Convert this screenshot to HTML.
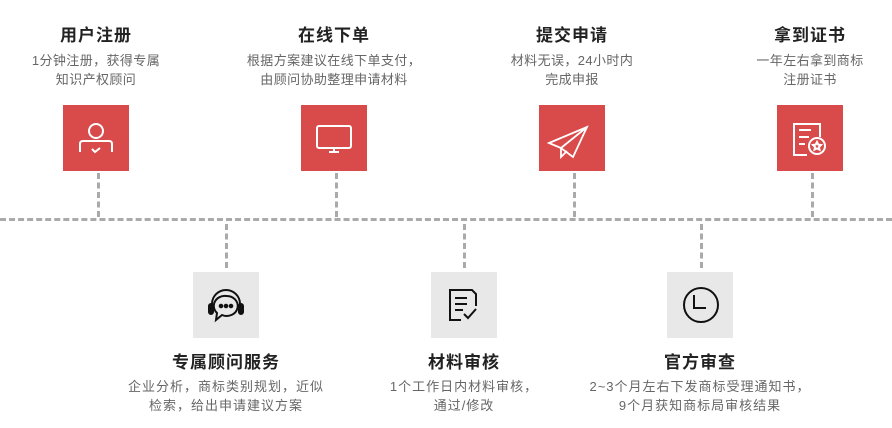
<!DOCTYPE html>
<html><head><meta charset="utf-8"><style>
body{margin:0;width:892px;height:428px;background:#fff;position:relative;overflow:hidden;font-family:"Liberation Sans","Noto Sans CJK SC",sans-serif;}
.t{position:absolute;width:240px;text-align:center;font-size:17px;font-weight:bold;color:#222;letter-spacing:1px;}
.d{position:absolute;width:240px;text-align:center;font-size:13px;color:#666;line-height:19px;letter-spacing:0.4px;}
.b .d,.d.b{letter-spacing:1px;}
.box{position:absolute;width:66px;height:66px;}
.r{background:#d94a4a;}
.g{background:#e8e8e8;}
.v{position:absolute;width:0;border-left:3px dashed #aaa;}
.h{position:absolute;left:0;top:218px;width:892px;height:0;border-top:3px dashed #aaa;}
svg{position:absolute;left:0;top:0}
</style></head><body>
<div class="h"></div>

<div class="t" style="left:-24px;top:21px">用户注册</div>
<div class="d" style="left:-24px;top:51px">1分钟注册，获得专属<br>知识产权顾问</div>
<div class="box r" style="left:63px;top:105px"><svg width="66" height="66" fill="none" stroke="#fff" stroke-width="2"><circle cx="33" cy="26" r="7"/><path d="M17 47v-8q0-3 3-3h26q3 0 3 3v8"/><path d="M29 44l3 3 5-4"/></svg></div>
<div class="v" style="left:97px;top:173px;height:44px"></div>

<div class="t" style="left:214px;top:21px">在线下单</div>
<div class="d" style="left:214px;top:51px">根据方案建议在线下单支付，<br>由顾问协助整理申请材料</div>
<div class="box r" style="left:301px;top:105px"><svg width="66" height="66" fill="none" stroke="#fff" stroke-width="2"><rect x="16" y="21" width="34" height="22" rx="2"/><path d="M28 47h10M33 43v4"/></svg></div>
<div class="v" style="left:335px;top:173px;height:44px"></div>

<div class="t" style="left:452px;top:21px">提交申请</div>
<div class="d" style="left:452px;top:51px">材料无误，24小时内<br>完成申报</div>
<div class="box r" style="left:539px;top:105px"><svg width="66" height="66" fill="none" stroke="#fff" stroke-width="1.8"><path d="M10 38L48 22 34 52 22 43z M22 43v9l6-6M22 43l26-21"/></svg></div>
<div class="v" style="left:573px;top:173px;height:44px"></div>

<div class="t" style="left:690px;top:21px">拿到证书</div>
<div class="d" style="left:690px;top:51px">一年左右拿到商标<br>注册证书</div>
<div class="box r" style="left:777px;top:105px"><svg width="66" height="66" fill="none" stroke="#fff" stroke-width="2"><path d="M30 50h-13V19h26v13"/><path d="M22 25h12M22 32h10M22 39h6"/><circle cx="40" cy="41" r="8"/><path d="M40 37l1.3 2.6 2.7.4-2 2 .5 2.7-2.5-1.3-2.5 1.3.5-2.7-2-2 2.7-.4z"/></svg></div>
<div class="v" style="left:811px;top:173px;height:44px"></div>

<div class="v" style="left:225px;top:224px;height:44px"></div>
<div class="box g" style="left:193px;top:272px"><svg width="66" height="66" fill="none" stroke="#111" stroke-width="2"><path d="M19 37v-5a14 14 0 0 1 28 0v5"/><rect x="16" y="32" width="4" height="10" rx="2" fill="#111"/><rect x="46" y="32" width="4" height="10" rx="2" fill="#111"/><path d="M33 24a11 10 0 1 1-4 19l-6 5 1-7a11 10 0 0 1 9-17z"/><circle cx="28" cy="34" r="1.3" fill="#111"/><circle cx="33" cy="34" r="1.3" fill="#111"/><circle cx="38" cy="34" r="1.3" fill="#111"/></svg></div>
<div class="t" style="left:106px;top:348px">专属顾问服务</div>
<div class="d b" style="left:96px;width:260px;top:377px">企业分析，商标类别规划，近似<br>检索，给出申请建议方案</div>

<div class="v" style="left:463px;top:224px;height:44px"></div>
<div class="box g" style="left:431px;top:272px"><svg width="66" height="66" fill="none" stroke="#111" stroke-width="2"><path d="M30 48h-11V18h22l4 4v12"/><path d="M24 26h12M24 32h12M24 38h8"/><path d="M33 42l4 4 8-9"/></svg></div>
<div class="t" style="left:344px;top:348px">材料审核</div>
<div class="d b" style="left:334px;width:260px;top:377px">1个工作日内材料审核，<br>通过/修改</div>

<div class="v" style="left:700px;top:224px;height:44px"></div>
<div class="box g" style="left:667px;top:272px"><svg width="66" height="66" fill="none" stroke="#111" stroke-width="2"><circle cx="34" cy="33" r="17"/><path d="M27 23v13h12"/></svg></div>
<div class="t" style="left:580px;top:348px">官方审查</div>
<div class="d b" style="left:560px;width:280px;top:377px">2~3个月左右下发商标受理通知书，<br>9个月获知商标局审核结果</div>
</body></html>
